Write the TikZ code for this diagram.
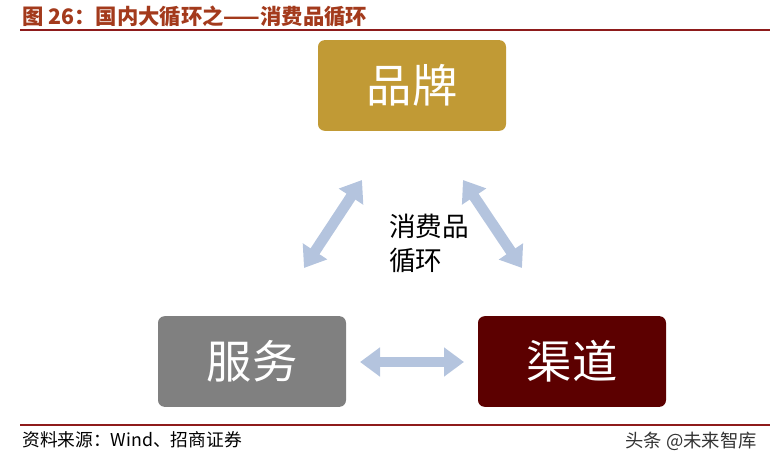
\documentclass[tikz,border=0pt]{standalone}
\usepackage{fontspec}
\setmainfont{Liberation Sans}
\newfontfamily\cjk{Noto Sans CJK SC}
\usetikzlibrary{positioning,arrows.meta}
\definecolor{titlered}{HTML}{A33A1C}
\definecolor{rulered}{HTML}{8E1B1B}
\definecolor{brandgold}{HTML}{C19A35}
\definecolor{servegray}{HTML}{808080}
\definecolor{channelred}{HTML}{5C0000}
\definecolor{flowblue}{HTML}{B4C4DE}

\begin{document}
\begin{tikzpicture}[x=0.75pt,y=-0.75pt,
    cyclebox/.style={rounded corners=5pt, inner sep=0pt, minimum width=141pt, minimum height=68pt,
      text=white, font=\cjk\fontsize{34}{34}\selectfont},
    flow/.style={flowblue, line width=8pt,
      {Triangle[width=21pt,length=15pt]}-{Triangle[width=21pt,length=15pt]}}]
    \useasboundingbox (0,0) rectangle (770,466);
    % heading and rules
    \node[anchor=west, inner sep=0pt, text=titlered, font=\cjk\bfseries\fontsize{16}{16}\selectfont] (title) at (22,16) {图 26：国内大循环之——消费品循环};
    \draw[rulered, line width=1.5pt] (20,30) -- (770,30);
    \draw[rulered, line width=1.5pt] (20,425) -- (770,425);
    % the three boxes
    \node[cyclebox, fill=brandgold] (brand) at (412,85.5) {品牌};
    \node[cyclebox, fill=servegray] (service) at (252,361.5) {服务};
    \node[cyclebox, fill=channelred] (channel) at (572,361.5) {渠道};
    \node[anchor=north west, inner sep=0pt, align=left, font=\cjk\fontsize{20}{25.5}\selectfont] (loop) at (389,214) {消费品\\循环};
    % arrow ends
    \coordinate (sb) at (304,268);
    \coordinate (bs) at (362,180);
    \coordinate (bc) at (463,180);
    \coordinate (cb) at (522,268);
    \coordinate (sc) at (360,362);
    \coordinate (cs) at (464,362);
    \draw[flow] (sb) -- (bs);
    \draw[flow] (bc) -- (cb);
    \draw[flow] (sc) -- (cs);
    % footer
    \node[anchor=west, inner sep=0pt, font=\cjk\fontsize{13.3}{14}\selectfont] (source) at (22,440) {资料来源：Wind、招商证券};
    \node[anchor=east, inner sep=0pt, text=black!80, font=\cjk\fontsize{13.75}{14}\selectfont] (mark) at (757,441) {头条 @未来智库};
\end{tikzpicture}
\end{document}
